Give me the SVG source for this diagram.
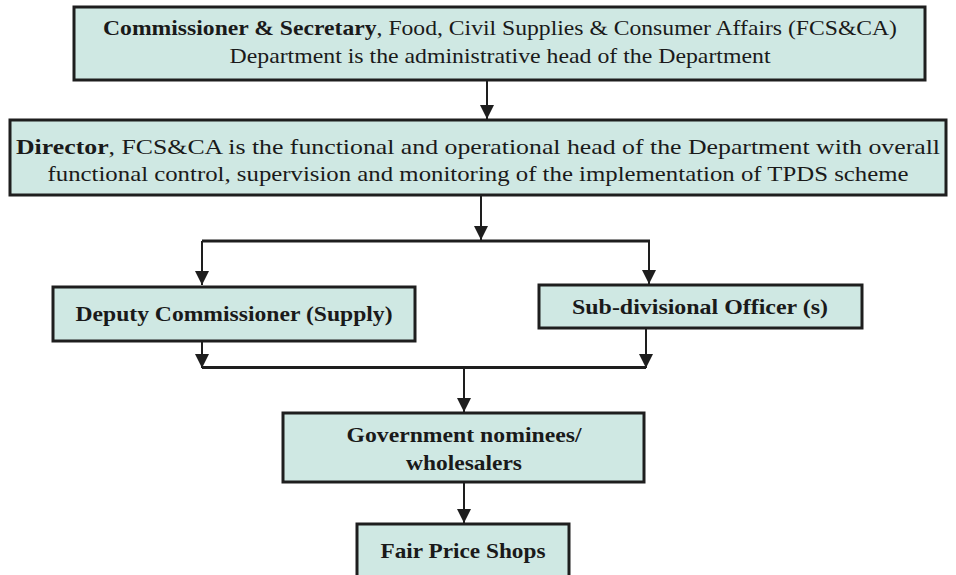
<svg xmlns="http://www.w3.org/2000/svg" width="956" height="575" viewBox="0 0 956 575">
  <style>
    .box { fill: #cfe8e3; stroke: #1e1e1e; stroke-width: 3; }
    .t { font-family: "Liberation Serif", "Times New Roman", Times, serif; font-size: 22px; fill: #1a1a1a; text-anchor: middle; }
    .b { font-weight: bold; }
    .wire { fill: none; stroke: #1e1e1e; stroke-width: 2; }
    .bar { fill: none; stroke: #1e1e1e; stroke-width: 3; }
  </style>
  <defs>
    <marker id="arrow" markerUnits="userSpaceOnUse" markerWidth="14" markerHeight="14" viewBox="0 0 14 14" refX="14" refY="7" orient="auto">
      <path d="M0,0 L14,7 L0,14 Z" fill="#1e1e1e"/>
    </marker>
  </defs>

  <!-- connectors -->
  <g id="connectors">
    <line class="wire" x1="487" y1="80" x2="487" y2="119" marker-end="url(#arrow)"/>
    <line class="wire" x1="481" y1="195" x2="481" y2="240" marker-end="url(#arrow)"/>
    <line class="bar" x1="202" y1="241" x2="650" y2="241"/>
    <line class="wire" x1="202" y1="241" x2="202" y2="285" marker-end="url(#arrow)"/>
    <line class="wire" x1="649" y1="241" x2="649" y2="284" marker-end="url(#arrow)"/>
    <line class="wire" x1="202" y1="341" x2="202" y2="368" marker-end="url(#arrow)"/>
    <line class="wire" x1="646" y1="328" x2="646" y2="368" stroke-width="1.5" marker-end="url(#arrow)"/>
    <line class="bar" x1="202" y1="367.5" x2="646" y2="367.5"/>
    <line class="wire" x1="464" y1="367" x2="464" y2="412" marker-end="url(#arrow)"/>
    <line class="wire" x1="464" y1="482" x2="464" y2="523" marker-end="url(#arrow)"/>
  </g>

  <g id="commissioner">
    <rect class="box" x="74" y="7" width="851" height="73"/>
    <text class="t" x="500" y="35" textLength="794" lengthAdjust="spacingAndGlyphs"><tspan class="b">Commissioner &amp; Secretary</tspan>, Food, Civil Supplies &amp; Consumer Affairs (FCS&amp;CA)</text>
    <text class="t" x="500" y="63" textLength="541" lengthAdjust="spacingAndGlyphs">Department is the administrative head of the Department</text>
  </g>

  <g id="director">
    <rect class="box" x="10" y="120" width="936" height="75"/>
    <text class="t" x="478" y="154" textLength="924" lengthAdjust="spacingAndGlyphs"><tspan class="b">Director</tspan>, FCS&amp;CA is the functional and operational head of the Department with overall</text>
    <text class="t" x="478" y="181" textLength="861" lengthAdjust="spacingAndGlyphs">functional control, supervision and monitoring of the implementation of TPDS scheme</text>
  </g>

  <g id="deputy-commissioner">
    <rect class="box" x="53" y="287" width="362" height="54"/>
    <text class="t b" x="234" y="321" textLength="317" lengthAdjust="spacingAndGlyphs">Deputy Commissioner (Supply)</text>
  </g>

  <g id="sub-divisional-officer">
    <rect class="box" x="539" y="285" width="323" height="43"/>
    <text class="t b" x="700" y="314" textLength="256" lengthAdjust="spacingAndGlyphs">Sub-divisional Officer (s)</text>
  </g>

  <g id="government-nominees">
    <rect class="box" x="283" y="413" width="361" height="69"/>
    <text class="t b" x="464" y="442" textLength="235" lengthAdjust="spacingAndGlyphs">Government nominees/</text>
    <text class="t b" x="464" y="470" textLength="116" lengthAdjust="spacingAndGlyphs">wholesalers</text>
  </g>

  <g id="fair-price-shops">
    <rect class="box" x="357" y="524" width="212" height="60"/>
    <text class="t b" x="463" y="558" textLength="165" lengthAdjust="spacingAndGlyphs">Fair Price Shops</text>
  </g>
</svg>
